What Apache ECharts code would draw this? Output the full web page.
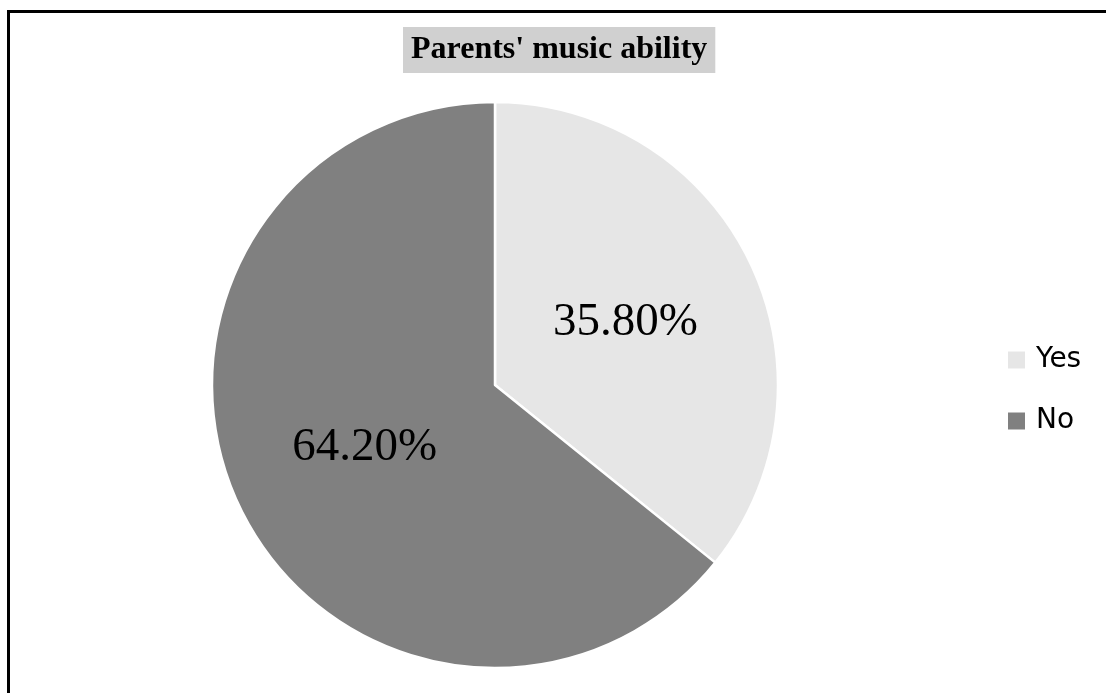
<!DOCTYPE html>
<html>
<head>
<meta charset="utf-8">
<style>
  html, body { margin: 0; padding: 0; background: #ffffff; }
  #chart { width: 1106px; height: 693px; }
</style>
<script src="https://cdn.jsdelivr.net/npm/echarts@6/dist/echarts.min.js"></script>
</head>
<body>
<div id="chart"></div>
<script>
// Parents' music ability: share of answers
const categories = ['Yes', 'No'];
const shares = [35.8, 64.2];
const sliceColors = ['#e6e6e6', '#808080'];

const chart = echarts.init(document.getElementById('chart'), null, { renderer: 'canvas' });

chart.setOption({
  animation: false,
  backgroundColor: '#ffffff',
  title: {
    text: "Parents' music ability",
    left: 403,
    top: 27,
    padding: [7, 8, 7, 8],
    backgroundColor: '#d0d0d0',
    textStyle: {
      fontFamily: '"Liberation Serif", "Times New Roman", serif',
      fontWeight: 'bold',
      fontSize: 32,
      lineHeight: 32,
      color: '#000000'
    }
  },
  legend: {
    orient: 'vertical',
    left: 1003,
    top: 341,
    itemWidth: 17,
    itemHeight: 17,
    itemGap: 33,
    icon: 'rect',
    selectedMode: false,
    itemStyle: { borderWidth: 0 },
    textStyle: {
      fontFamily: '"DejaVu Sans", sans-serif',
      fontSize: 28,
      lineHeight: 28,
      color: '#000000',
      padding: [0, 0, 0, 6]
    },
    data: categories
  },
  graphic: [{
    type: 'rect',
    silent: true,
    shape: { x: 8.5, y: 11.5, width: 1200, height: 1000 },
    style: { fill: 'none', stroke: '#000000', lineWidth: 3 }
  }],
  series: [{
    type: 'pie',
    center: [495, 385],
    radius: 283,
    startAngle: 90,
    clockwise: true,
    silent: true,
    itemStyle: { borderColor: '#ffffff', borderWidth: 2.5 },
    label: {
      show: true,
      position: 'inside',
      fontFamily: '"Liberation Serif", "Times New Roman", serif',
      fontSize: 47,
      color: '#000000',
      formatter: (p) => p.value.toFixed(2) + '%'
    },
    labelLine: { show: false },
    emphasis: { disabled: true },
    data: categories.map((name, i) => ({
      name: name,
      value: shares[i],
      itemStyle: { color: sliceColors[i] }
    }))
  }]
});
</script>
</body>
</html>
